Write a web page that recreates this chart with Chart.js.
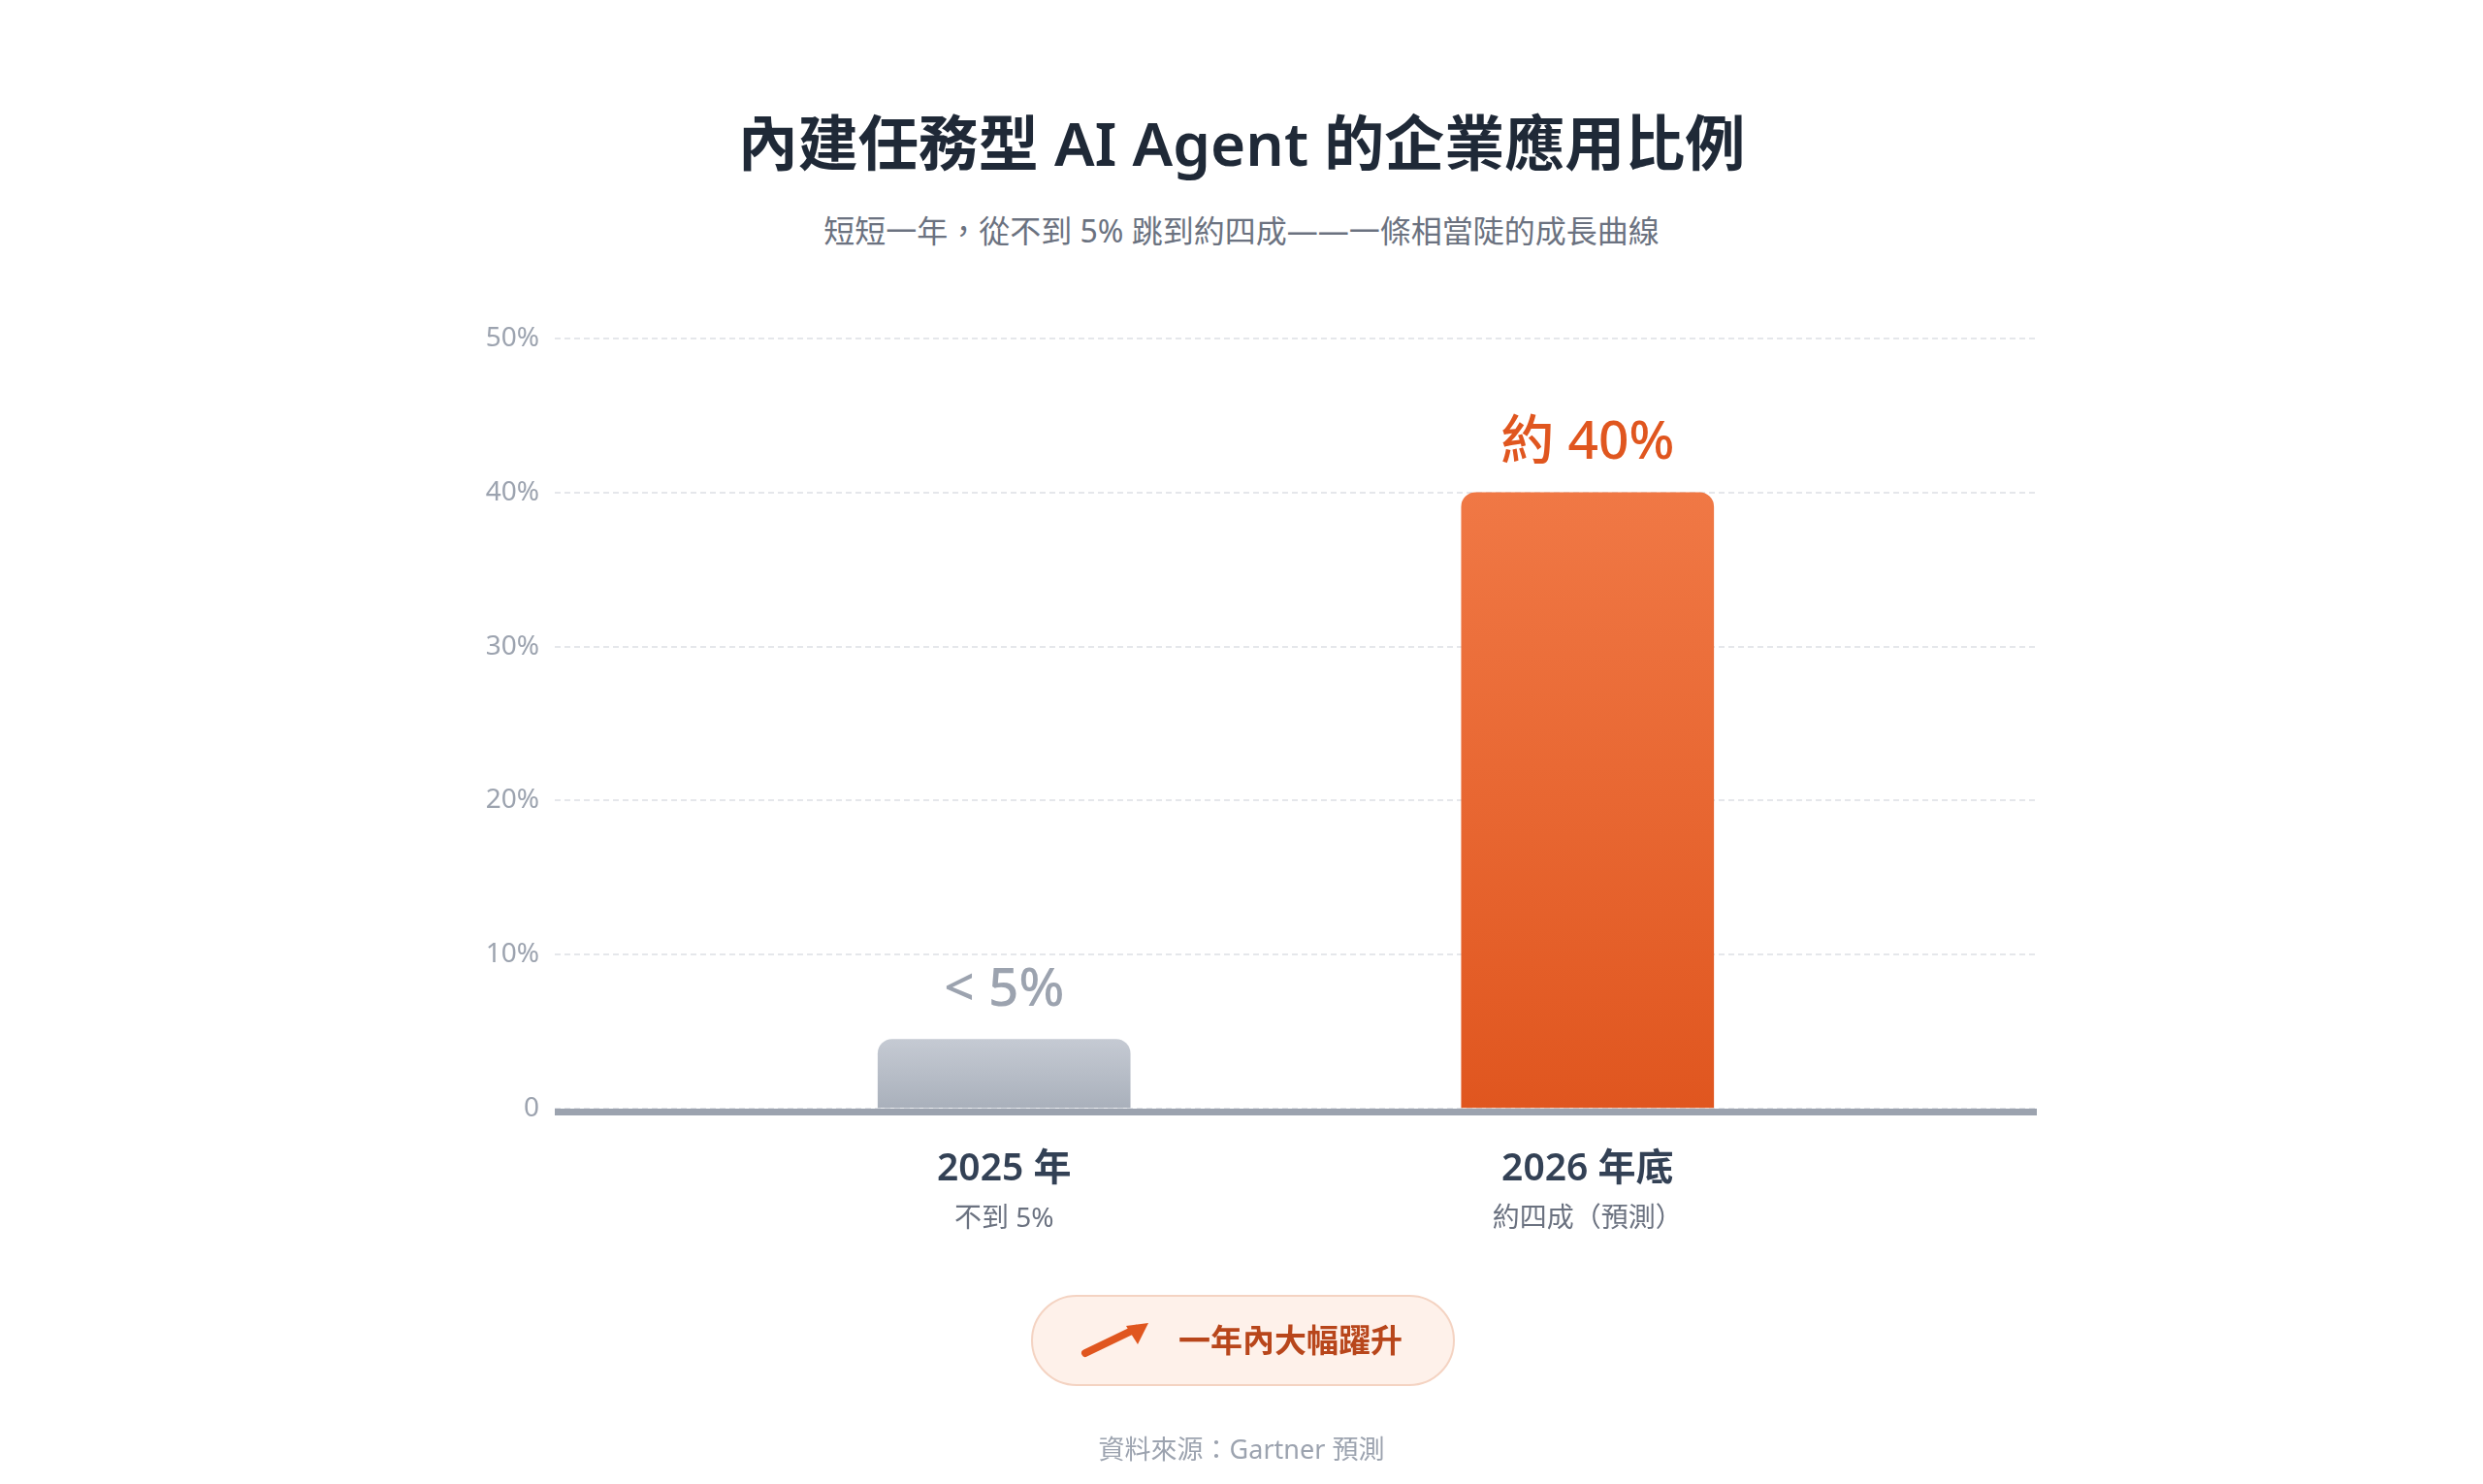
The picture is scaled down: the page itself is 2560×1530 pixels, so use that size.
<!DOCTYPE html>
<html lang="zh-Hant">
<head>
<meta charset="utf-8">
<title>內建任務型 AI Agent 的企業應用比例</title>
<script src="https://cdn.jsdelivr.net/npm/chart.js@4.4.1/dist/chart.umd.min.js"></script>
<style>
  html, body { margin: 0; padding: 0; background: #ffffff; }
  body {
    width: 2560px; height: 1530px; position: relative; overflow: hidden;
    font-family: "Noto Sans", "Noto Sans CJK TC", sans-serif;
  }
  #chart { position: absolute; left: 0; top: 0; }
  .title {
    position: absolute; left: 0; width: 2560px; top: 107px; text-align: center;
    font-size: 62px; font-weight: 600; color: #1f2937; line-height: 80px;
  }
  .subtitle {
    position: absolute; left: 0; width: 2560px; top: 218px; text-align: center;
    font-size: 32px; color: #6b7280; line-height: 40px;
  }
  .pill {
    position: absolute; left: 1063px; top: 1335px; width: 433px; height: 90px;
    border: 2px solid #f4d3c2; border-radius: 48px; background: #fef1ea;
  }
  .pill svg { position: absolute; left: -2px; top: -2px; }
  .pill span {
    position: absolute; left: 150px; top: 0; line-height: 90px;
    font-size: 33px; font-weight: 600; color: #b8461b;
  }
  .source {
    position: absolute; left: 0; width: 2560px; top: 1476px; text-align: center;
    font-size: 27px; color: #9ca3af; line-height: 36px;
  }
</style>
</head>
<body>
<div class="title">內建任務型 AI Agent 的企業應用比例</div>
<div class="subtitle">短短一年，從不到 5% 跳到約四成——一條相當陡的成長曲線</div>
<canvas id="chart" width="2560" height="1530"></canvas>
<div class="pill">
  <svg width="140" height="94" viewBox="0 0 140 94">
    <line x1="56" y1="60" x2="108" y2="35" stroke="#e0561f" stroke-width="8" stroke-linecap="round"/>
    <polygon points="98,32 121,29 110,51" fill="#e0561f"/>
  </svg>
  <span>一年內大幅躍升</span>
</div>
<div class="source">資料來源：Gartner 預測</div>

<script>
const categories = ['2025 年', '2026 年底'];
const subLabels = ['不到 5%', '約四成（預測）'];
const shares = [4.5, 40];
const valueLabels = ['< 5%', '約 40%'];
const yTicks = [0, 10, 20, 30, 40, 50];

const FONT = '"Noto Sans", "Noto Sans CJK TC", sans-serif';
const barColors = [
  { top: '#c5cad3', bottom: '#a9b0bb', label: '#9ca3af' },
  { top: '#f07845', bottom: '#e0561f', label: '#e0561f' },
];

function barGradient(context) {
  const chart = context.chart;
  const colors = barColors[context.dataIndex] || barColors[0];
  if (!chart.chartArea || !context.parsed) {
    return colors.bottom;
  }
  const y = chart.scales.y;
  const top = y.getPixelForValue(context.parsed.y);
  const bottom = y.getPixelForValue(0);
  const gradient = chart.ctx.createLinearGradient(0, top, 0, bottom);
  gradient.addColorStop(0, colors.top);
  gradient.addColorStop(1, colors.bottom);
  return gradient;
}

// thick baseline, value labels above bars, two-line category labels below
const annotations = {
  id: 'annotations',
  afterDatasetsDraw(chart) {
    const { ctx, chartArea, scales } = chart;
    const zero = scales.y.getPixelForValue(0);

    ctx.save();
    ctx.fillStyle = '#9ca3af';
    ctx.fillRect(chartArea.left, zero, chartArea.right - chartArea.left, 7);

    const bars = chart.getDatasetMeta(0).data;
    ctx.textAlign = 'center';
    bars.forEach((bar, i) => {
      ctx.fillStyle = barColors[i].label;
      ctx.font = `500 55px ${FONT}`;
      ctx.textBaseline = 'alphabetic';
      ctx.fillText(valueLabels[i], bar.x, bar.y - 35);
    });

    categories.forEach((label, i) => {
      const x = scales.x.getPixelForValue(i + 1);
      ctx.textBaseline = 'middle';
      ctx.fillStyle = '#334155';
      ctx.font = `600 39px ${FONT}`;
      ctx.fillText(label, x, zero + 63);
      ctx.fillStyle = '#6b7280';
      ctx.font = `400 28px ${FONT}`;
      ctx.fillText(subLabels[i], x, zero + 114);
    });
    ctx.restore();
  },
};

new Chart(document.getElementById('chart'), {
  type: 'bar',
  data: {
    datasets: [
      {
        data: shares.map((value, i) => ({ x: i + 1, y: value })),
        backgroundColor: barGradient,
        borderWidth: 0,
        borderRadius: 15,
        borderSkipped: 'start',
        barThickness: 260,
      },
    ],
  },
  options: {
    responsive: false,
    animation: false,
    devicePixelRatio: 1,
    layout: { padding: { top: 349, right: 460, bottom: 387, left: 0 } },
    plugins: {
      legend: { display: false },
      tooltip: { enabled: false },
    },
    scales: {
      x: {
        type: 'linear',
        display: false,
        offset: false,
        min: 0.23,
        max: 2.77,
      },
      y: {
        min: 0,
        max: 50,
        afterFit(scale) { scale.width = 572; },
        afterBuildTicks(scale) { scale.ticks = yTicks.map((value) => ({ value })); },
        ticks: {
          padding: 16,
          color: '#9ca3af',
          font: { family: FONT, size: 28 },
          callback: (value) => (value === 0 ? '0' : `${value}%`),
        },
        grid: { color: '#e5e7eb', lineWidth: 2, drawTicks: false },
        border: { display: false, dash: [6, 4] },
      },
    },
  },
  plugins: [annotations],
});
</script>
</body>
</html>
